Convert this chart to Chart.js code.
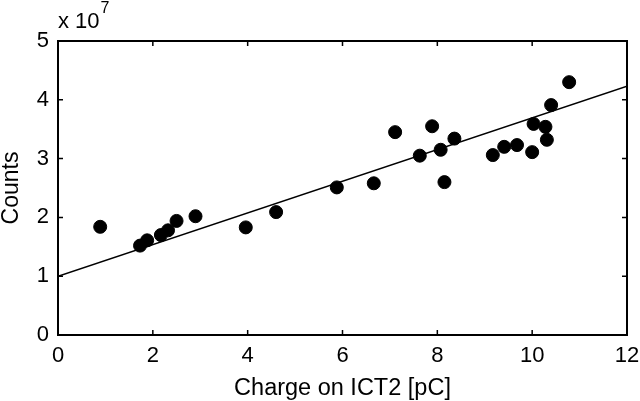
<!DOCTYPE html>
<html>
<head>
<meta charset="utf-8">
<script src="https://cdn.jsdelivr.net/npm/chart.js@4/dist/chart.umd.min.js"></script>
<style>
  html, body { margin: 0; padding: 0; background: #fff; }
  canvas { display: block; }
</style>
</head>
<body>
<canvas id="c" width="640" height="401"></canvas>
<script>
// Charge on ICT2 [pC]
const chargePC = [0.89, 1.73, 1.88, 2.17, 2.32, 2.50, 2.90, 3.96, 4.60, 5.88, 6.66, 7.11, 7.63, 7.89, 8.07, 8.15, 8.36, 9.17, 9.41, 9.68, 10.00, 10.03, 10.28, 10.31, 10.40, 10.78];
// Counts in units of 10^7
const countsE7 = [1.84, 1.52, 1.61, 1.70, 1.78, 1.94, 2.02, 1.83, 2.09, 2.51, 2.58, 3.45, 3.05, 3.55, 3.15, 2.60, 3.34, 3.06, 3.20, 3.23, 3.11, 3.59, 3.54, 3.32, 3.91, 4.30];
// Linear fit endpoints
const fitX = [0, 12];
const fitE7 = [1.00, 4.23];
// Axis ticks
const xTicks = [0, 2, 4, 6, 8, 10, 12];
const yTicksE7 = [0, 1, 2, 3, 4, 5];
const SCALE = 1e7;

const FONT = "'Liberation Sans', Arial, Helvetica, sans-serif";

const scatterData = chargePC.map((x, i) => ({ x: x, y: countsE7[i] * SCALE }));
const fitData = fitX.map((x, i) => ({ x: x, y: fitE7[i] * SCALE }));

const frame = {
  id: 'frame',
  afterDraw(chart) {
    const { ctx, chartArea: a, scales } = chart;
    const xs = scales.x, ys = scales.y;
    const tl = 5;
    ctx.save();
    ctx.strokeStyle = '#000';
    ctx.lineWidth = 2;
    ctx.strokeRect(a.left, a.top, a.right - a.left, a.bottom - a.top);
    ctx.lineWidth = 1.5;
    ctx.beginPath();
    xTicks.forEach(v => {
      const px = xs.getPixelForValue(v);
      ctx.moveTo(px, a.bottom); ctx.lineTo(px, a.bottom - tl);
      ctx.moveTo(px, a.top); ctx.lineTo(px, a.top + tl);
    });
    yTicksE7.forEach(v => {
      const py = ys.getPixelForValue(v * SCALE);
      ctx.moveTo(a.left, py); ctx.lineTo(a.left + tl, py);
      ctx.moveTo(a.right, py); ctx.lineTo(a.right - tl, py);
    });
    ctx.stroke();
    // exponent label
    ctx.fillStyle = '#000';
    ctx.textBaseline = 'alphabetic';
    ctx.textAlign = 'left';
    ctx.font = '22px ' + FONT;
    ctx.fillText('x 10', a.left, 28);
    const w = ctx.measureText('x 10').width;
    ctx.font = '16px ' + FONT;
    ctx.fillText('7', a.left + w + 1, 13);
    ctx.restore();
  }
};

new Chart(document.getElementById('c'), {
  type: 'scatter',
  data: {
    datasets: [
      {
        type: 'line',
        data: fitData,
        borderColor: '#000',
        borderWidth: 1.5,
        pointRadius: 0,
        fill: false,
        order: 2
      },
      {
        type: 'scatter',
        data: scatterData,
        backgroundColor: '#000',
        borderColor: '#000',
        pointRadius: 6.5,
        pointHoverRadius: 6.5,
        order: 1
      }
    ]
  },
  options: {
    responsive: false,
    animation: false,
    devicePixelRatio: 1,
    layout: { padding: { top: 41, right: 13, left: 0, bottom: 0 } },
    plugins: { legend: { display: false }, tooltip: { enabled: false } },
    scales: {
      x: {
        type: 'linear',
        min: 0, max: 12,
        afterBuildTicks(s) { s.ticks = xTicks.map(v => ({ value: v })); },
        afterFit(s) { s.height = 66; s.paddingLeft = 0; s.paddingRight = 0; },
        grid: { display: false, drawTicks: false },
        border: { display: false },
        ticks: { color: '#000', font: { family: FONT, size: 22 }, padding: 8, maxRotation: 0 },
        title: { display: true, text: 'Charge on ICT2 [pC]', color: '#000', font: { family: FONT, size: 23.5, lineHeight: 1.1 }, padding: 0 }
      },
      y: {
        type: 'linear',
        min: 0, max: 5 * SCALE,
        afterBuildTicks(s) { s.ticks = yTicksE7.map(v => ({ value: v * SCALE })); },
        afterFit(s) { s.width = 58; s.paddingTop = 0; s.paddingBottom = 0; },
        grid: { display: false, drawTicks: false },
        border: { display: false },
        ticks: { color: '#000', font: { family: FONT, size: 22 }, padding: 9, callback: v => String(Math.round(v / SCALE)) },
        title: { display: true, text: 'Counts', color: '#000', font: { family: FONT, size: 23, lineHeight: 1.0 }, padding: 0 }
      }
    }
  },
  plugins: [frame]
});
</script>
</body>
</html>
